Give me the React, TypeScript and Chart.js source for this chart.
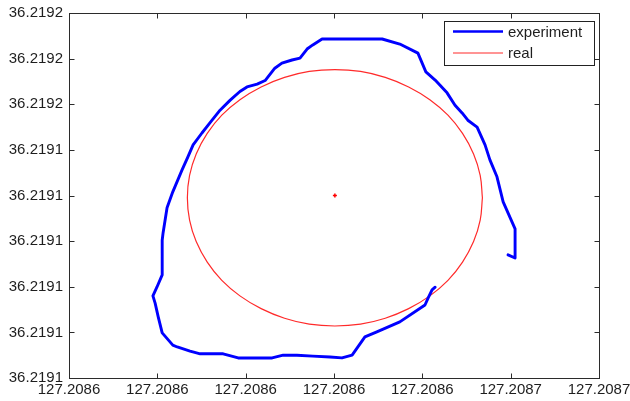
import React, { useEffect, useRef } from "react";
import { Chart, registerables } from "chart.js";

Chart.register(...registerables);

const xTickValues = [127.20856, 127.20858, 127.2086, 127.20862, 127.20864, 127.20866, 127.20868];
const xTickLabels = ["127.2086", "127.2086", "127.2086", "127.2086", "127.2086", "127.2087", "127.2087"];
const yTickValues = [36.21909, 36.2191, 36.21911, 36.21912, 36.21913, 36.21914, 36.21915, 36.21916, 36.21917];
const yTickLabels = ["36.2191", "36.2191", "36.2191", "36.2191", "36.2191", "36.2191", "36.2192", "36.2192", "36.2192"];

const expLon = [
  127.2086594, 127.208661, 127.208661, 127.2086594, 127.2086583, 127.2086569, 127.2086553, 127.2086542, 127.2086524, 127.2086503,
  127.208649, 127.2086474, 127.2086456, 127.2086429, 127.2086408, 127.208639, 127.2086349, 127.2086309, 127.2086173, 127.2086152,
  127.2086139, 127.2086123, 127.2086105, 127.2086082, 127.2086066, 127.2086044, 127.2086026, 127.2086003, 127.2085987, 127.2085965,
  127.2085942, 127.2085919, 127.2085901, 127.2085881, 127.2085869, 127.2085856, 127.2085835, 127.2085822, 127.2085813, 127.2085811,
  127.2085811, 127.2085799, 127.208579, 127.2085795, 127.2085802, 127.2085811, 127.2085835, 127.2085845, 127.2085874, 127.2085897,
  127.2085949, 127.2085983, 127.208606, 127.2086085, 127.2086116, 127.2086152, 127.2086191, 127.2086218, 127.2086241, 127.208627,
  127.2086297, 127.2086349, 127.2086406, 127.2086413, 127.2086422, 127.2086429,
];
const expLat = [
  36.219117, 36.2191163, 36.2191227, 36.2191262, 36.2191286, 36.2191341, 36.2191378, 36.2191411, 36.219145, 36.2191465,
  36.2191481, 36.2191498, 36.2191525, 36.2191553, 36.2191571, 36.2191612, 36.2191632, 36.2191643, 36.2191643, 36.219163,
  36.2191621, 36.2191601, 36.2191597, 36.219159, 36.2191579, 36.2191552, 36.2191544, 36.2191538, 36.2191528, 36.2191509,
  36.2191487, 36.2191459, 36.2191437, 36.2191411, 36.2191384, 36.2191356, 36.2191308, 36.2191273, 36.2191218, 36.2191202,
  36.2191126, 36.2191099, 36.219108, 36.2191064, 36.2191034, 36.2190999, 36.2190972, 36.2190968, 36.2190959, 36.2190953,
  36.2190953, 36.2190944, 36.2190944, 36.219095, 36.219095, 36.2190948, 36.2190946, 36.2190944, 36.219095, 36.219099,
  36.2191001, 36.2191023, 36.219106, 36.2191075, 36.2191093, 36.2191099,
];

const realLon = [
  127.2086536, 127.2086531, 127.2086516, 127.2086491, 127.2086458, 127.2086417, 127.2086369, 127.2086316, 127.208626,
  127.2086202, 127.2086144, 127.2086088, 127.2086035, 127.2085987, 127.2085946, 127.2085913, 127.2085888, 127.2085873,
  127.2085868, 127.2085873, 127.2085888, 127.2085913, 127.2085946, 127.2085987, 127.2086035, 127.2086088, 127.2086144,
  127.2086202, 127.208626, 127.2086316, 127.2086369, 127.2086417, 127.2086458, 127.2086491, 127.2086516, 127.2086531,
  127.2086536,
];
const realLat = [
  36.2191295, 36.2191344, 36.2191391, 36.2191436, 36.2191476, 36.219151, 36.2191538, 36.2191559, 36.2191572,
  36.2191576, 36.2191572, 36.2191559, 36.2191538, 36.219151, 36.2191476, 36.2191436, 36.2191391, 36.2191344,
  36.2191295, 36.2191246, 36.2191199, 36.2191154, 36.2191114, 36.219108, 36.2191052, 36.2191031, 36.2191018,
  36.2191014, 36.2191018, 36.2191031, 36.2191052, 36.219108, 36.2191114, 36.2191154, 36.2191199, 36.2191246,
  36.2191295,
];

const centerLon = [127.2086202];
const centerLat = [36.21913];

const seriesLabels = ["experiment", "real"];

const AXIS_COLOR = "#2b2b2b";
const TEXT_COLOR = "#1e1e1e";
const FONT_FAMILY = "'Liberation Sans', Arial, sans-serif";

const boxPlugin = {
  id: "matlabBox",
  afterDraw(chart: any) {
    const ctx = chart.ctx;
    const { left, right, top, bottom } = chart.chartArea;
    ctx.save();
    ctx.strokeStyle = AXIS_COLOR;
    ctx.lineWidth = 1;
    const L = Math.round(left) + 0.5;
    const R = Math.round(right) + 0.5;
    const T = Math.round(top) + 0.5;
    const B = Math.round(bottom) + 0.5;
    ctx.strokeRect(L, T, R - L, B - T);
    const tl = 5;
    const xs = chart.scales.x;
    xs.ticks.forEach((_t: any, i: number) => {
      const px = Math.round(xs.getPixelForTick(i)) + 0.5;
      ctx.beginPath();
      ctx.moveTo(px, B);
      ctx.lineTo(px, B - tl);
      ctx.moveTo(px, T);
      ctx.lineTo(px, T + tl);
      ctx.stroke();
    });
    const ys = chart.scales.y;
    ys.ticks.forEach((_t: any, i: number) => {
      const py = Math.round(ys.getPixelForTick(i)) + 0.5;
      ctx.beginPath();
      ctx.moveTo(L, py);
      ctx.lineTo(L + tl, py);
      ctx.moveTo(R, py);
      ctx.lineTo(R - tl, py);
      ctx.stroke();
    });

    // legend
    const lx = 444.5, ly = 21.5, lw = 150, lh = 44;
    ctx.fillStyle = "#ffffff";
    ctx.fillRect(lx, ly, lw, lh);
    ctx.strokeStyle = "#222";
    ctx.lineWidth = 1;
    ctx.strokeRect(lx, ly, lw, lh);
    const rows = [31.5, 53];
    ctx.font = "15px " + FONT_FAMILY;
    ctx.textBaseline = "middle";
    ctx.textAlign = "left";
    [0, 1].forEach((di) => {
      const ds = chart.data.datasets[di];
      ctx.strokeStyle = ds.borderColor;
      ctx.lineWidth = di === 0 ? 2.5 : 1.2;
      ctx.beginPath();
      ctx.moveTo(453, rows[di]);
      ctx.lineTo(503, rows[di]);
      ctx.stroke();
      ctx.fillStyle = TEXT_COLOR;
      ctx.fillText(ds.label, 508, rows[di] + 1);
    });
    ctx.restore();
  },
};

export default function App() {
  const ref = useRef<HTMLCanvasElement | null>(null);
  useEffect(() => {
    if (!ref.current) return;
    const chart = new Chart(ref.current, {
      type: "scatter",
      data: {
        datasets: [
          {
            label: seriesLabels[0],
            data: expLon.map((x, i) => ({ x, y: expLat[i] })),
            showLine: true,
            borderColor: "#0000ff",
            borderWidth: 2.9,
            pointRadius: 0,
            borderJoinStyle: "round",
            borderCapStyle: "round",
          },
          {
            label: seriesLabels[1],
            data: realLon.map((x, i) => ({ x, y: realLat[i] })),
            showLine: true,
            borderColor: "#ff2a2a",
            borderWidth: 1.2,
            pointRadius: 0,
            tension: 0.4,
          },
          {
            label: "center",
            data: centerLon.map((x, i) => ({ x, y: centerLat[i] })),
            showLine: false,
            pointStyle: "cross",
            pointRadius: 2,
            borderWidth: 1.5,
            borderColor: "#ff0000",
            backgroundColor: "#ff0000",
          },
        ],
      },
      options: {
        animation: false,
        responsive: false,
        devicePixelRatio: 1,
        layout: { padding: { top: 13, right: 31, left: 0, bottom: 0 } },
        plugins: { legend: { display: false }, tooltip: { enabled: false } },
        scales: {
          x: {
            type: "linear",
            min: xTickValues[0],
            max: xTickValues[xTickValues.length - 1],
            grid: { display: false, drawTicks: false, tickLength: 0 },
            border: { display: false },
            afterBuildTicks: (s: any) => {
              s.ticks = xTickValues.map((v) => ({ value: v }));
            },
            afterFit: (s: any) => {
              s.height = 23;
              s.paddingLeft = 0;
              s.paddingRight = 0;
            },
            ticks: {
              autoSkip: false,
              maxRotation: 0,
              padding: 3,
              color: TEXT_COLOR,
              font: { family: FONT_FAMILY, size: 15 },
              callback: (_v: any, i: number) => xTickLabels[i],
            },
          },
          y: {
            type: "linear",
            min: yTickValues[0],
            max: yTickValues[yTickValues.length - 1],
            grid: { display: false, drawTicks: false, tickLength: 0 },
            border: { display: false },
            afterBuildTicks: (s: any) => {
              s.ticks = yTickValues.map((v) => ({ value: v }));
            },
            afterFit: (s: any) => {
              s.width = 69;
              s.paddingTop = 0;
              s.paddingBottom = 0;
            },
            ticks: {
              autoSkip: false,
              padding: 6,
              color: TEXT_COLOR,
              font: { family: FONT_FAMILY, size: 15 },
              callback: (_v: any, i: number) => yTickLabels[i],
            },
          },
        },
      },
      plugins: [boxPlugin],
    } as any);
    return () => chart.destroy();
  }, []);
  return (
    <div style={{ position: "absolute", left: 0, top: 0, width: 630, height: 401, background: "#fff" }}>
      <canvas ref={ref} width={630} height={401} style={{ width: 630, height: 401, display: "block" }} />
    </div>
  );
}
